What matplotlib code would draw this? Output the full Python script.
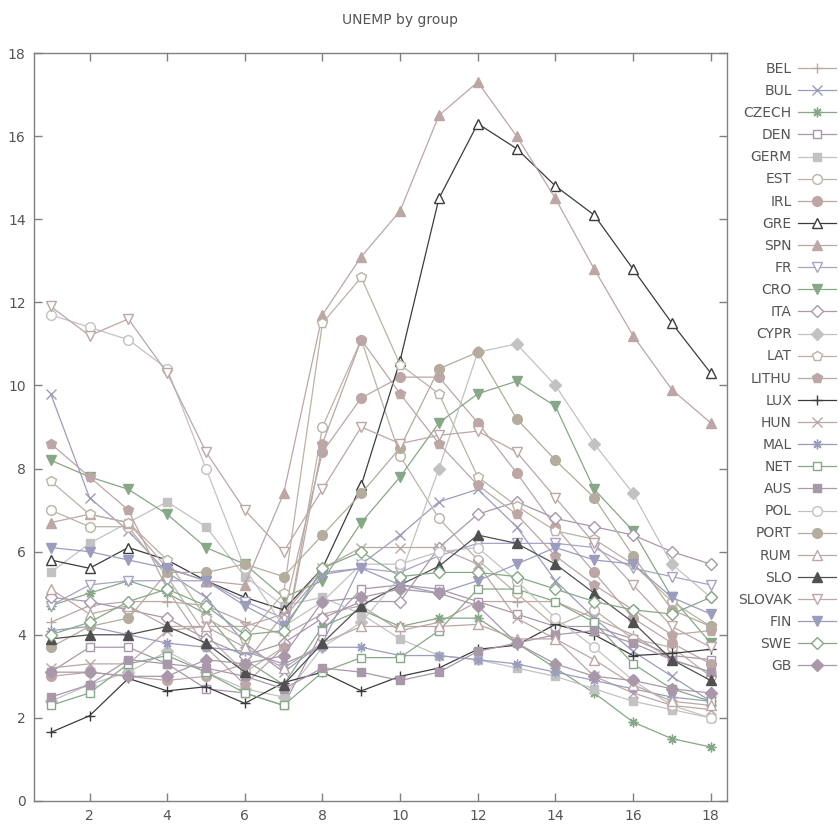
import matplotlib
matplotlib.use("Agg")
import matplotlib.pyplot as plt

# ---- data ----
x = list(range(1, 19))

BEL = [4.3, 4.7, 4.8, 4.8, 4.7, 4.3, 4.0, 4.5, 4.7, 4.1, 4.3, 4.8, 4.8, 4.8, 4.4, 4.0, 3.4, 3.1]
BUL = [9.8, 7.3, 6.5, 5.5, 4.9, 3.8, 3.1, 3.8, 5.7, 6.4, 7.2, 7.5, 6.6, 5.3, 4.4, 3.6, 3.0, 2.4]
CZECH = [4.7, 5.0, 5.3, 5.0, 4.5, 3.4, 2.8, 4.2, 4.6, 4.2, 4.4, 4.4, 3.8, 3.2, 2.6, 1.9, 1.5, 1.3]
DEN = [3.1, 3.7, 3.7, 3.3, 2.7, 2.6, 2.3, 4.1, 5.1, 5.2, 5.1, 4.8, 4.5, 4.2, 4.2, 3.9, 3.5, 3.4]
GERM = [5.5, 6.2, 6.7, 7.2, 6.6, 5.4, 4.7, 4.9, 4.5, 3.9, 3.5, 3.4, 3.2, 3.0, 2.7, 2.4, 2.2, 2.0]
EST = [7.0, 6.6, 6.6, 5.4, 4.0, 3.1, 3.7, 9.0, 11.1, 8.3, 6.8, 5.8, 5.0, 4.2, 4.6, 3.9, 3.7, 3.0]
IRL = [3.0, 3.1, 3.0, 2.9, 3.0, 3.3, 4.5, 8.4, 9.7, 10.2, 10.2, 9.1, 7.9, 6.6, 5.5, 4.4, 3.8, 3.3]
GRE = [5.8, 5.6, 6.1, 5.8, 5.3, 4.9, 4.6, 5.6, 7.6, 10.6, 14.5, 16.3, 15.7, 14.8, 14.1, 12.8, 11.5, 10.3]
SPN = [6.7, 6.9, 6.7, 5.6, 5.3, 5.2, 7.4, 11.7, 13.1, 14.2, 16.5, 17.3, 16.0, 14.5, 12.8, 11.2, 9.9, 9.1]
FR = [4.7, 5.2, 5.3, 5.3, 5.3, 4.8, 4.4, 5.5, 5.6, 5.5, 5.9, 6.2, 6.2, 6.2, 6.1, 5.6, 5.4, 5.2]
CRO = [8.2, 7.8, 7.5, 6.9, 6.1, 5.7, 4.9, 5.3, 6.7, 7.8, 9.1, 9.8, 10.1, 9.5, 7.5, 6.5, 4.9, 3.8]
ITA = [4.9, 4.8, 4.6, 4.4, 3.9, 3.5, 3.8, 4.4, 4.8, 4.8, 6.1, 6.9, 7.2, 6.8, 6.6, 6.4, 6.0, 5.7]
CYPR = [2.4, 2.8, 3.1, 3.6, 3.1, 2.7, 2.5, 3.7, 4.3, 5.4, 8.0, 10.8, 11.0, 10.0, 8.6, 7.4, 5.7, 4.9]
LAT = [7.7, 6.9, 6.7, 5.8, 4.4, 3.9, 5.0, 11.5, 12.6, 10.5, 9.8, 7.8, 7.1, 6.5, 6.3, 5.7, 4.8, 4.2]
LITHU = [8.6, 7.8, 7.0, 5.1, 3.7, 2.8, 3.7, 8.6, 11.1, 9.8, 8.6, 7.6, 6.9, 5.9, 5.2, 4.6, 4.0, 4.1]
LUX = [1.65, 2.05, 2.95, 2.65, 2.75, 2.35, 2.85, 3.1, 2.65, 3.0, 3.2, 3.65, 3.75, 4.25, 4.0, 3.5, 3.55, 3.65]
HUN = [3.2, 3.3, 3.3, 4.1, 4.2, 4.2, 4.5, 5.6, 6.1, 6.1, 6.1, 5.7, 4.4, 3.9, 3.0, 2.6, 2.3, 2.2]
MAL = [4.1, 4.2, 4.0, 3.8, 3.7, 3.6, 3.3, 3.7, 3.7, 3.5, 3.5, 3.4, 3.3, 3.1, 2.9, 2.7, 2.5, 2.4]
NET = [2.3, 2.6, 3.3, 3.5, 3.1, 2.6, 2.3, 3.1, 3.45, 3.45, 4.1, 5.1, 5.1, 4.8, 4.3, 3.3, 2.7, 2.4]
AUS = [2.5, 2.8, 3.4, 3.3, 3.2, 3.0, 2.7, 3.2, 3.1, 2.9, 3.1, 3.6, 3.8, 4.0, 4.1, 3.8, 3.4, 3.1]
POL = [11.7, 11.4, 11.1, 10.4, 8.0, 5.6, 4.2, 4.8, 5.7, 5.7, 6.0, 6.1, 5.3, 4.4, 3.7, 2.9, 2.3, 2.0]
PORT = [3.7, 4.2, 4.4, 5.5, 5.5, 5.7, 5.4, 6.4, 7.4, 8.5, 10.4, 10.8, 9.2, 8.2, 7.3, 5.9, 4.6, 4.2]
RUM = [5.1, 4.5, 4.7, 4.2, 4.2, 3.7, 3.2, 3.8, 4.2, 4.2, 4.2, 4.25, 3.9, 3.9, 3.4, 2.8, 2.4, 2.3]
SLO = [3.9, 4.0, 4.0, 4.2, 3.8, 3.1, 2.8, 3.8, 4.7, 5.2, 5.65, 6.4, 6.2, 5.7, 5.0, 4.3, 3.4, 2.9]
SLOVAK = [11.9, 11.2, 11.6, 10.3, 8.4, 7.0, 6.0, 7.5, 9.0, 8.6, 8.8, 8.9, 8.4, 7.3, 6.2, 5.2, 4.2, 3.7]
FIN = [6.1, 6.0, 5.8, 5.6, 5.3, 4.7, 4.2, 5.45, 5.6, 5.2, 5.0, 5.3, 5.7, 6.1, 5.8, 5.7, 4.9, 4.5]
SWE = [4.0, 4.3, 4.8, 5.1, 4.7, 4.0, 4.1, 5.6, 6.0, 5.4, 5.5, 5.5, 5.4, 5.1, 4.8, 4.6, 4.5, 4.9]
GB = [3.1, 3.1, 3.0, 3.0, 3.4, 3.3, 3.5, 4.8, 4.9, 5.1, 5.0, 4.7, 3.8, 3.3, 3.0, 2.9, 2.7, 2.6]

names = ["BEL", "BUL", "CZECH", "DEN", "GERM", "EST", "IRL", "GRE", "SPN", "FR",
         "CRO", "ITA", "CYPR", "LAT", "LITHU", "LUX", "HUN", "MAL", "NET", "AUS",
         "POL", "PORT", "RUM", "SLO", "SLOVAK", "FIN", "SWE", "GB"]
series = [BEL, BUL, CZECH, DEN, GERM, EST, IRL, GRE, SPN, FR,
          CRO, ITA, CYPR, LAT, LITHU, LUX, HUN, MAL, NET, AUS,
          POL, PORT, RUM, SLO, SLOVAK, FIN, SWE, GB]

# ---- styles ----
ROSE = "#bca6a6"
BLUE = "#9c9cbe"
GREEN = "#86a886"
MAUVE = "#a898aa"
GREY = "#c2c2c2"
TAN = "#bcb2a6"
KHAKI = "#b4ac9c"
BLACK = "#3c3c3c"
DARK = "#505050"
LAV = "#a8a2c4"

AST = (8, 2, 0)
styles = [
    (ROSE, "+", False), (BLUE, "x", False), (GREEN, AST, False), (MAUVE, "s", False),
    (GREY, "s", True), (TAN, "o", False), (ROSE, "o", True), (BLACK, "^", False),
    (ROSE, "^", True), (LAV, "v", False), (GREEN, "v", True), (MAUVE, "D", False),
    (GREY, "D", True), (TAN, "p", False), (ROSE, "p", True), (BLACK, "+", False),
    (ROSE, "x", False), (BLUE, AST, False), (GREEN, "s", False), (MAUVE, "s", True),
    (GREY, "o", False), (KHAKI, "o", True), (ROSE, "^", False), (DARK, "^", True),
    (ROSE, "v", False), (BLUE, "v", True), (GREEN, "D", False), (MAUVE, "D", True),
]

fig = plt.figure(figsize=(8.39, 8.35), dpi=100)
ax = fig.add_axes([34 / 839, 1 - 801 / 835, (727 - 34) / 839, (801 - 53) / 835])

for name, ys, (col, mk, filled) in zip(names, series, styles):
    size = 7
    if mk in ("^", "v"):
        size = 7.5
    if mk in ("D", "s"):
        size = 6
    ax.plot(x, ys, color=col, lw=0.9, marker=mk, ms=size,
            mfc=col if filled else "white", mec=col, mew=1.0, label=name)

ax.set_xlim(0.57, 18.42)
ax.set_ylim(0, 18)
ax.set_xticks(range(2, 19, 2))
ax.set_yticks(range(0, 19, 2))
ax.tick_params(direction="in", length=6, width=1, color="#808080",
               labelcolor="#555555", labelsize=10, top=True, right=True, pad=6)
for s in ax.spines.values():
    s.set_color("#808080")
    s.set_linewidth(1.0)

fig.text(400 / 839, 1 - 20 / 835, "UNEMP by group", ha="center", va="center",
         fontsize=10, color="#555555")

leg = ax.legend(loc="upper left", bbox_to_anchor=(1.0, 1.003), frameon=False,
                markerfirst=False, fontsize=10, labelcolor="#555555",
                handlelength=2.7, handletextpad=0.45, labelspacing=0.585,
                borderaxespad=0.5, borderpad=0.3)

fig.savefig("out.png", dpi=100)
